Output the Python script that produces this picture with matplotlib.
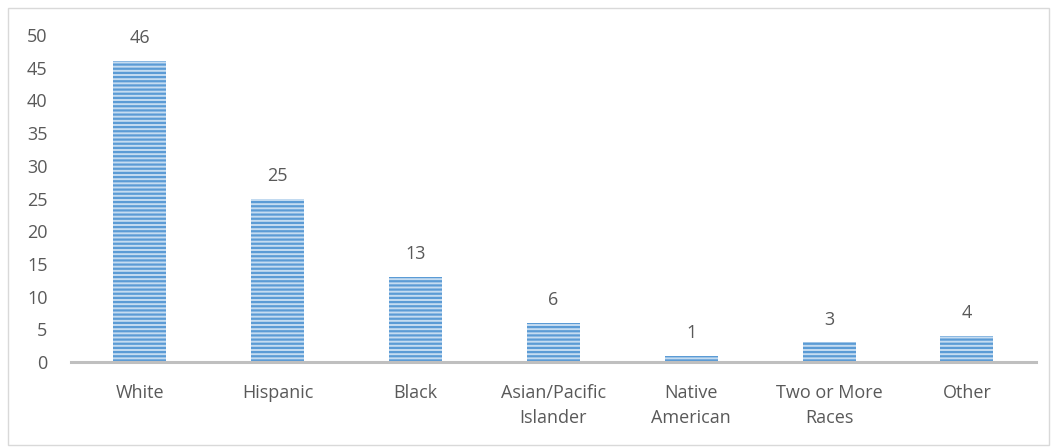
import matplotlib.pyplot as plt
from matplotlib.patches import Rectangle

categories = ["White", "Hispanic", "Black", "Asian/Pacific\nIslander",
              "Native\nAmerican", "Two or More\nRaces", "Other"]
values = [46, 25, 13, 6, 1, 3, 4]

plt.rcParams['font.family'] = ['Open Sans', 'DejaVu Sans']
plt.rcParams['hatch.linewidth'] = 1.6
txt = '#595959'
fs = 13

fig = plt.figure(figsize=(10.51, 4.47), dpi=100)
ax = fig.add_axes([0.0676, 0.19, 0.918, 0.7317])

x = range(len(categories))
bars = ax.bar(x, values, width=0.385, color='#c5dcf1', edgecolor='#5B9BD5',
              hatch='----', linewidth=0)

for b, v in zip(bars, values):
    ax.annotate(str(v), (b.get_x() + b.get_width() / 2, v), xytext=(0, 10),
                textcoords='offset points', ha='center', va='bottom',
                fontsize=fs, color=txt)

ax.set_xlim(-0.5, 6.5)
ax.set_ylim(0, 50)
ax.set_yticks(range(0, 51, 5))
ax.set_xticks(list(x))
ax.set_xticklabels(categories, fontsize=fs, color=txt, linespacing=1.45)
ax.tick_params(axis='y', length=0, labelsize=fs, labelcolor=txt, pad=17)
ax.tick_params(axis='x', length=0, pad=16)

for s in ['top', 'right', 'left']:
    ax.spines[s].set_visible(False)
ax.spines['bottom'].set_color('#BFBFBF')
ax.spines['bottom'].set_linewidth(2.2)

fig.patches.append(Rectangle((0.008, 0.005), 0.99, 0.978, transform=fig.transFigure,
                             fill=False, edgecolor='#D9D9D9', linewidth=1))

fig.savefig('out.png', dpi=100)
